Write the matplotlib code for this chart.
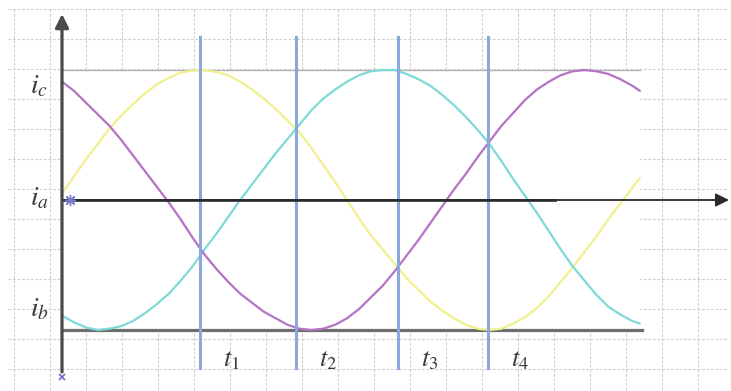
import matplotlib.pyplot as plt
from matplotlib.patches import Rectangle

plt.rcParams["mathtext.fontset"] = "stix"

theta = [0, 7.5, 15, 22.5, 30, 37.5, 45, 52.5, 60, 67.5, 75, 82.5, 90, 97.5, 105, 112.5,
         120, 127.5, 135, 142.5, 150, 157.5, 165, 172.5, 180, 187.5, 195, 202.5, 210,
         217.5, 225, 232.5, 240, 247.5, 255, 262.5, 270, 277.5, 285, 292.5, 300, 307.5,
         315, 322.5, 330, 337.5, 345, 352.5, 360, 365]
i_yellow = [0.05, 0.18, 0.31, 0.43, 0.55, 0.65, 0.74, 0.82, 0.89, 0.94, 0.98, 0.995, 1.00,
            0.985, 0.96, 0.91, 0.85, 0.78, 0.70, 0.61, 0.52, 0.40, 0.27, 0.14, 0.00, -0.14,
            -0.27, -0.38, -0.49, -0.60, -0.69, -0.78, -0.85, -0.91, -0.96, -0.99, -1.00,
            -0.99, -0.95, -0.90, -0.83, -0.74, -0.63, -0.52, -0.40, -0.28, -0.15, -0.03,
            0.09, 0.17]
i_cyan = [-0.89, -0.94, -0.98, -1.00, -0.99, -0.97, -0.93, -0.87, -0.80, -0.72, -0.62,
          -0.51, -0.38, -0.26, -0.13, 0.00, 0.12, 0.24, 0.36, 0.47, 0.58, 0.69, 0.78, 0.85,
          0.91, 0.96, 0.99, 1.00, 1.00, 0.97, 0.93, 0.88, 0.81, 0.73, 0.64, 0.54, 0.43,
          0.30, 0.16, 0.03, -0.10, -0.24, -0.38, -0.51, -0.62, -0.73, -0.82, -0.88, -0.93,
          -0.95]
i_magenta = [0.91, 0.84, 0.75, 0.66, 0.57, 0.46, 0.34, 0.22, 0.10, -0.02, -0.15, -0.29,
             -0.42, -0.53, -0.63, -0.72, -0.79, -0.86, -0.91, -0.96, -0.99, -1.00, -0.99,
             -0.96, -0.91, -0.84, -0.75, -0.66, -0.55, -0.43, -0.31, -0.18, -0.05, 0.08,
             0.20, 0.33, 0.45, 0.57, 0.67, 0.77, 0.85, 0.91, 0.96, 0.99, 1.00, 0.99, 0.97,
             0.93, 0.88, 0.84]

t_marks = [87, 148, 212, 269]
t_labels = [r"$t_{\mathit{1}}$", r"$t_{\mathit{2}}$", r"$t_{\mathit{3}}$", r"$t_{\mathit{4}}$"]
i_levels = [0.88, 0.02, -0.83]
i_labels = [r"$i_c$", r"$i_a$", r"$i_b$"]

# pixel layout of the original drawing
X0, Y0 = 62, 200
PX_PER_DEG = 570 / 360
PX_PER_UNIT = 130


def px_x(px):
    return (px - X0) / PX_PER_DEG


def px_y(py):
    return (Y0 - py) / PX_PER_UNIT


fig = plt.figure(figsize=(7.31, 3.91), dpi=100)
ax = fig.add_axes([0, 0, 1, 1])
ax.set_xlim(px_x(0), px_x(731))
ax.set_ylim(px_y(391), px_y(0))
ax.axis("off")

# dashed paper grid
for gx in range(14, 731, 36):
    ax.plot([px_x(gx)] * 2, [px_y(9), px_y(391)], ls=(0, (2.5, 1.5)),
            color="#cfcfcf", lw=0.8, zorder=0)
for gy in range(9, 391, 30):
    ax.plot([px_x(8), px_x(728)], [px_y(gy)] * 2, ls=(0, (2.5, 1.5)),
            color="#cfcfcf", lw=0.8, zorder=0)

end = theta[-1]
ax.add_patch(Rectangle((0, -1), end, 2, fc="white", ec="none", zorder=1))
ax.plot([0, end], [1, 1], color="#b5b5b5", lw=1.0, zorder=2)
ax.plot([0, end + 1], [-1, -1], color="#6e6e6e", lw=2.3, zorder=2)

for vals, col in [(i_yellow, "#f0f08c"), (i_cyan, "#7ddad6"), (i_magenta, "#b472c4")]:
    ax.plot(theta, vals, color=col, lw=1.6, zorder=3,
            solid_joinstyle="round", solid_capstyle="round")

for t in t_marks:
    ax.plot([t, t], [px_y(37), px_y(368)], color="#8aa8dc", lw=2.2, zorder=4)

for t, lab in zip(t_marks, t_labels):
    ax.text(t + 20, px_y(359), lab, fontsize=19, color="#3a3a3a",
            ha="center", va="center")
for lev, lab in zip(i_levels, i_labels):
    ax.text(px_x(39), lev, lab, fontsize=20, color="#3a3a3a",
            ha="center", va="center")

# axes with arrow heads
ax.plot([0, px_x(555)], [0, 0], color="#3a3a3a", lw=2.0, zorder=5)
ax.annotate("", xy=(px_x(729), 0), xytext=(0, 0), zorder=5,
            arrowprops=dict(arrowstyle="-|>", color="#2a2a2a", lw=1.3,
                            mutation_scale=20, shrinkA=0, shrinkB=0))
ax.annotate("", xy=(0, px_y(14)), xytext=(0, px_y(372)), zorder=5,
            arrowprops=dict(arrowstyle="-|>", color="#4a4a4a", lw=2.3,
                            mutation_scale=20, shrinkA=0, shrinkB=0))

ax.plot(px_x(70), 0, marker=(8, 2, 0), ms=8, color="#7b7bd0", zorder=6)
ax.plot(0, px_y(377), marker="x", ms=5, mew=1.2, color="#6a6ad0", zorder=6)

fig.savefig("out.png", dpi=100)
